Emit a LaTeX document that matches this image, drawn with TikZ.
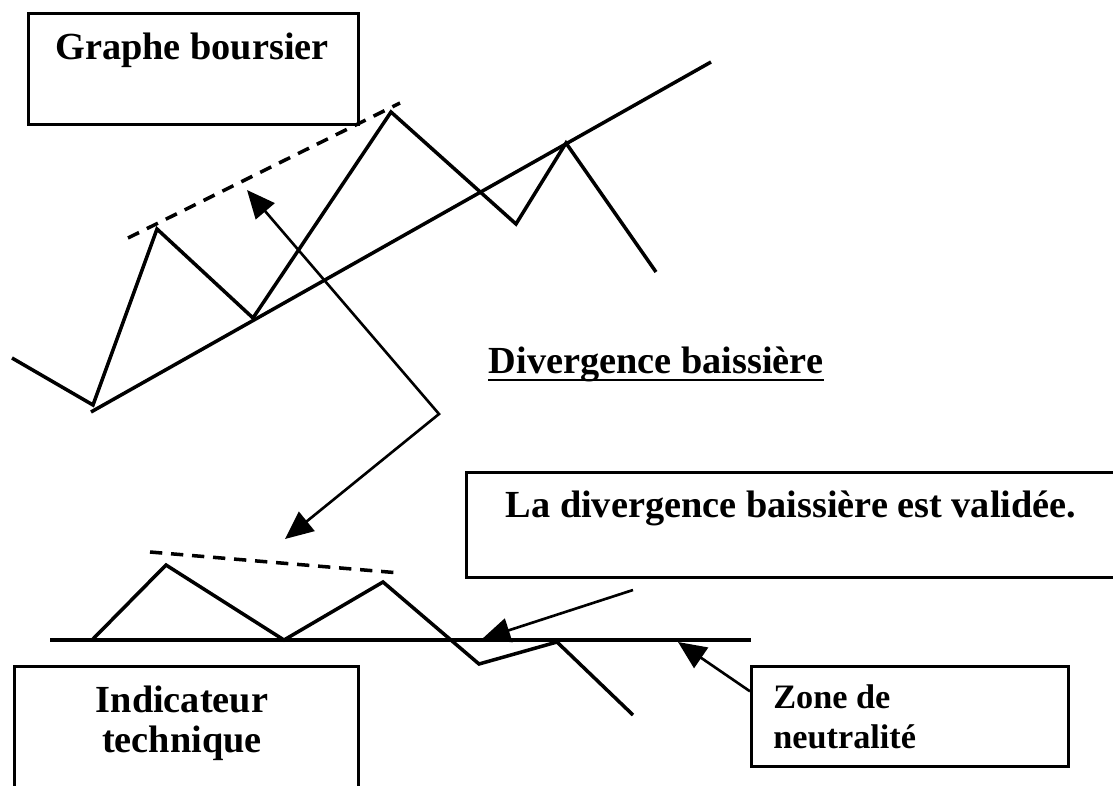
\documentclass[tikz,border=0pt]{standalone}
\usepackage{fontspec}
\setmainfont{Liberation Serif}
\usepackage{tikz}
\usetikzlibrary{arrows.meta, positioning}
\tikzset{
    frame/.style={rectangle, draw=black, line width=1.5pt, inner sep=0pt, anchor=north west},
    priceLine/.style={line width=2pt},
    peakLine/.style={line width=2pt, dash pattern=on 7pt off 5pt},
    pointer/.style={line width=1.5pt, >={Triangle[length=16pt, width=14pt]}, ->},
    caption/.style={font=\bfseries\fontsize{21.8}{22.7}\selectfont, inner sep=0pt, anchor=base},
    smallCaption/.style={font=\bfseries\fontsize{19.5}{22.7}\selectfont, inner sep=0pt, anchor=base west, align=left}
}

\begin{document}
\begin{tikzpicture}[x=0.02cm, y=-0.02cm]
    \useasboundingbox (0,0) rectangle (1113,785);

    % Boxes and texts
    \node[frame, minimum width=6.6cm, minimum height=2.22cm] (graphBox) at (27,12) {};
    \node[caption] (graphText) at (192,59) {Graphe boursier};

    \node[frame, minimum width=13.1cm, minimum height=2.1cm] (validBox) at (465,471) {};
    \node[caption] (validText) at (791,517) {La divergence baissière est validée.};

    \node[frame, minimum width=6.88cm, minimum height=2.8cm] (indBox) at (13,665) {};
    % base anchor of a two-line node sits on the last line
    \node[caption, align=center] (indText) at (182,752) {Indicateur\\technique};

    \node[frame, minimum width=6.34cm, minimum height=2cm] (zoneBox) at (750,665) {};
    \node[smallCaption] (zoneText) at (773,748) {Zone de\\neutralité};

    \node[caption] (divText) at (656,373) {Divergence baissière};
    \draw[line width=1.4pt] ([yshift=-4pt]divText.base west) -- ([yshift=-4pt]divText.base east);

    % Upper chart
    \coordinate (A0) at (12,358);
    \coordinate (A1) at (93,405);
    \coordinate (A2) at (157,229);
    \coordinate (A3) at (253,318);
    \coordinate (A4) at (391,112);
    \coordinate (A5) at (516,224);
    \coordinate (A6) at (566,143);
    \coordinate (A7) at (656,272);
    \draw[priceLine] (A0) -- (A1) -- (A2) -- (A3) -- (A4) -- (A5) -- (A6) -- (A7);

    \coordinate (T0) at (91,412);
    \coordinate (T1) at (711,62);
    \draw[priceLine] (T0) -- (T1);

    \coordinate (D0) at (128,238);
    \coordinate (D1) at (400,103);
    \draw[peakLine] (D0) -- (D1);

    % Lower chart
    \coordinate (L0) at (50,640);
    \coordinate (L1) at (751,640);
    \draw[priceLine] (L0) -- (L1);

    \coordinate (B0) at (92,640);
    \coordinate (B1) at (166,565);
    \coordinate (B2) at (284,640);
    \coordinate (B3) at (383,582);
    \coordinate (B4) at (479,664);
    \coordinate (B5) at (557,642);
    \coordinate (B6) at (633,715);
    \draw[priceLine] (B0) -- (B1) -- (B2) -- (B3) -- (B4) -- (B5) -- (B6);

    \coordinate (E0) at (150,552);
    \coordinate (E1) at (400,573);
    \draw[peakLine] (E0) -- (E1);

    % Arrows
    \coordinate (upTip) at (247,190);
    \coordinate (bend) at (439,414);
    \coordinate (lowTip) at (285,539);
    \draw[pointer, <->] (upTip) -- (bend) -- (lowTip);

    \coordinate (validStart) at (633,590);
    \coordinate (breakPt) at (482,639);
    \draw[pointer] (validStart) -- (breakPt);

    \coordinate (zoneTip) at (678,642);
    \draw[pointer] ([yshift=0.5cm]zoneBox.west) -- (zoneTip);
\end{tikzpicture}
\end{document}
